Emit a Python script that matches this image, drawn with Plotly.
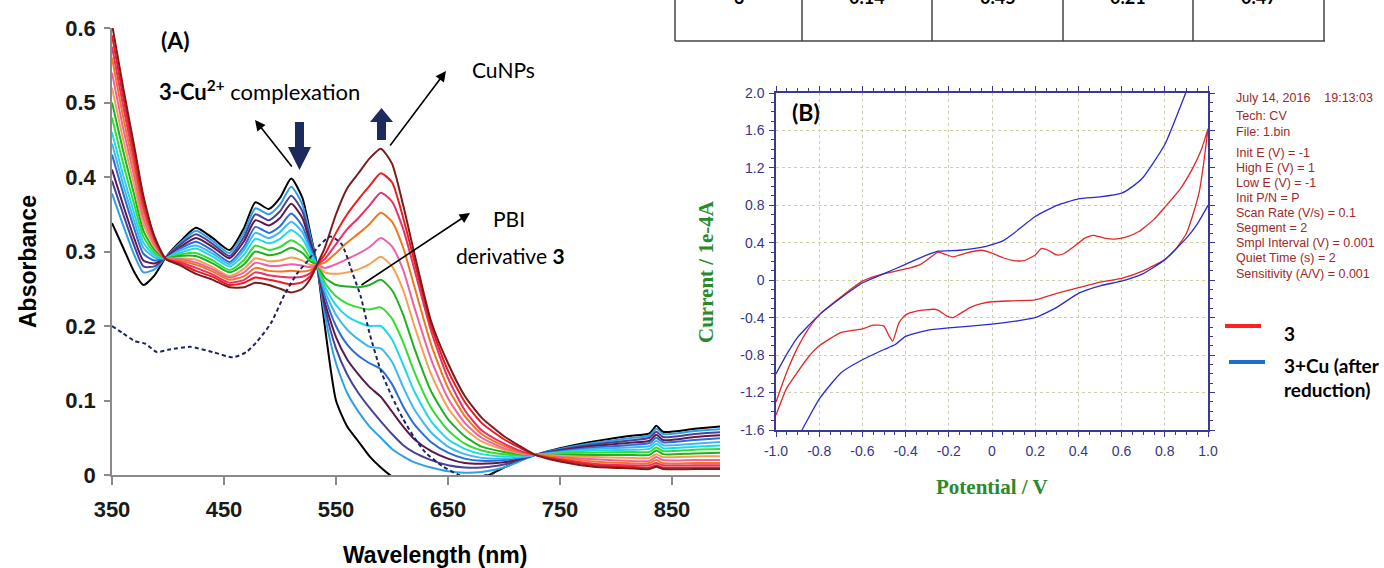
import plotly.graph_objects as go

# ---------------- Panel A data (UV-vis titration) ----------------
wl = [350, 360, 370, 378, 388, 398, 410, 425, 440, 455, 468, 478, 490, 500, 510, 520, 527, 533,
      540, 550, 560, 570, 580, 590, 600, 610, 620, 635, 650, 665, 680, 700, 715, 728,
      750, 780, 810, 830, 836, 842, 870, 900]

c01 = [.338, .305, .272, .255, .268, .292, .312, .332, .318, .302, .332, .366, .357, .372, .398, .372, .325, .282,
       .200, .100, .065, .045, .025, .010, -.002, -.010, -.015, -.020, -.020, -.015, -.005, .010, .020, .027,
       .036, .045, .052, .056, .066, .058, .062, .066]
c02 = [.378, .335, .295, .272, .276, .292, .310, .328, .314, .298, .326, .358, .350, .363, .387, .363, .321, .282,
       .215, .150, .110, .085, .065, .050, .035, .025, .017, .010, .005, .003, .004, .010, .019, .027,
       .035, .043, .049, .053, .062, .055, .059, .062]
c03 = [.395, .350, .307, .280, .280, .292, .308, .323, .310, .294, .320, .350, .342, .354, .375, .354, .316, .282,
       .225, .170, .135, .110, .090, .072, .055, .040, .030, .020, .013, .010, .010, .014, .021, .027,
       .034, .041, .046, .050, .058, .051, .055, .058]
c04 = [.410, .362, .317, .288, .284, .292, .305, .318, .306, .291, .314, .342, .335, .345, .364, .345, .311, .282,
       .232, .185, .155, .135, .118, .105, .085, .065, .048, .032, .022, .016, .015, .017, .022, .027,
       .033, .039, .043, .046, .054, .047, .051, .054]
c05 = [.430, .378, .330, .297, .288, .291, .303, .313, .301, .286, .307, .333, .325, .334, .351, .334, .306, .282,
       .240, .200, .175, .160, .150, .142, .122, .092, .068, .044, .030, .022, .019, .020, .023, .027,
       .032, .037, .040, .043, .050, .044, .047, .050]
c06 = [.445, .390, .340, .305, .292, .291, .301, .308, .297, .283, .302, .325, .318, .326, .340, .326, .301, .282,
       .247, .215, .195, .182, .172, .170, .152, .118, .088, .057, .038, .028, .023, .022, .024, .027,
       .031, .035, .037, .039, .046, .040, .042, .045]
c07 = [.460, .402, .350, .312, .295, .291, .298, .304, .293, .280, .296, .317, .311, .317, .329, .317, .297, .282,
       .253, .228, .213, .205, .200, .200, .182, .148, .112, .072, .048, .035, .028, .025, .026, .027,
       .030, .033, .034, .035, .042, .036, .038, .040]
c08 = [.480, .418, .362, .320, .298, .291, .296, .298, .288, .275, .289, .308, .302, .306, .315, .306, .291, .282,
       .258, .240, .230, .225, .222, .225, .210, .178, .138, .090, .060, .042, .033, .028, .027, .027,
       .029, .030, .031, .031, .037, .032, .034, .035]
c09 = [.500, .435, .375, .328, .302, .291, .294, .294, .284, .272, .283, .300, .295, .298, .305, .298, .287, .282,
       .265, .255, .253, .252, .255, .262, .248, .215, .170, .112, .075, .052, .038, .031, .028, .027,
       .027, .027, .027, .027, .033, .028, .029, .030]
c10 = [.520, .450, .388, .337, .306, .291, .291, .289, .279, .267, .277, .291, .287, .288, .292, .288, .282, .282,
       .272, .270, .272, .276, .283, .293, .280, .248, .200, .135, .090, .062, .045, .034, .029, .027,
       .026, .024, .023, .023, .028, .024, .025, .025]
c11 = [.540, .465, .400, .345, .309, .290, .290, .285, .276, .265, .272, .285, .281, .281, .283, .281, .279, .282,
       .278, .283, .290, .297, .306, .318, .307, .275, .225, .155, .103, .070, .050, .036, .030, .027,
       .024, .021, .019, .019, .024, .020, .020, .020]
c12 = [.560, .480, .410, .353, .312, .290, .288, .282, .273, .262, .267, .278, .274, .273, .274, .273, .275, .282,
       .285, .298, .312, .324, .337, .352, .340, .305, .253, .175, .117, .079, .055, .039, .031, .027,
       .023, .018, .016, .016, .020, .016, .016, .016]
c13 = [.575, .495, .420, .360, .315, .290, .286, .278, .269, .258, .262, .272, .268, .266, .265, .266, .271, .282,
       .290, .310, .330, .345, .362, .379, .367, .330, .276, .193, .130, .087, .060, .042, .032, .027,
       .021, .015, .013, .013, .016, .013, .013, .013]
c14 = [.590, .508, .430, .368, .318, .290, .284, .274, .266, .255, .258, .265, .262, .259, .256, .259, .267, .282,
       .296, .325, .350, .370, .388, .405, .393, .345, .287, .200, .140, .098, .070, .048, .036, .027,
       .020, .013, .011, .010, .013, .010, .010, .010]
c15 = [.605, .520, .440, .375, .320, .290, .282, .270, .262, .252, .252, .258, .255, .250, .245, .250, .263, .282,
       .305, .350, .385, .405, .425, .438, .418, .362, .297, .206, .150, .106, .077, .052, .038, .027,
       .018, .011, .009, .008, .011, .008, .008, .008]

series_A = [c01, c02, c03, c04, c05, c06, c07, c08, c09, c10, c11, c12, c13, c14, c15]
colors_A = ["#000000", "#2ea0e6", "#4a4296", "#5c1a4a", "#2a6dd9", "#3fb8f0", "#22d8e8", "#33dd33",
            "#22b022", "#f5a050", "#f060a8", "#f07818", "#e8306a", "#ee1c1c", "#7a1c1c"]

dash_wl = [350, 360, 370, 380, 390, 400, 420, 440, 458, 470, 480, 492, 504, 515, 525, 535, 545, 555,
           565, 572, 580, 590, 600, 610, 620, 630, 645, 660, 670, 685, 692]
dash_ab = [.200, .190, .180, .176, .165, .168, .172, .165, .158, .165, .180, .204, .242, .270, .288, .308, .320, .310,
           .270, .240, .190, .140, .105, .075, .050, .030, .012, .000, -.003, .000, .003]

xticks_A = [350, 450, 550, 650, 750, 850]
yticks_A = [0, 0.1, 0.2, 0.3, 0.4, 0.5, 0.6]
yticktext_A = ["0", "0.1", "0.2", "0.3", "0.4", "0.5", "0.6"]

# ---------------- Panel B data (cyclic voltammetry) ----------------
red_up_E = [-1.0, -0.95, -0.9, -0.85, -0.8, -0.7, -0.6, -0.5, -0.4, -0.33, -0.27, -0.25, -0.22, -0.18, -0.12,
            -0.05, 0.0, 0.05, 0.1, 0.15, 0.2, 0.23, 0.26, 0.3, 0.33, 0.38, 0.43, 0.47, 0.52, 0.57, 0.62, 0.68,
            0.75, 0.8, 0.87, 0.93, 0.97, 1.0]
red_up_I = [-1.30, -0.98, -0.72, -0.52, -0.37, -0.18, -0.01, 0.07, 0.12, 0.17, 0.27, 0.30, 0.28, 0.25, 0.29,
            0.32, 0.29, 0.24, 0.21, 0.21, 0.27, 0.34, 0.32, 0.27, 0.28, 0.36, 0.45, 0.48, 0.45, 0.44, 0.46, 0.52,
            0.65, 0.78, 0.97, 1.20, 1.40, 1.62]
red_dn_E = [1.0, 0.98, 0.96, 0.93, 0.9, 0.85, 0.8, 0.7, 0.6, 0.5, 0.4, 0.3, 0.2, 0.1, 0.0, -0.05, -0.1, -0.15,
            -0.18, -0.21, -0.25, -0.27, -0.35, -0.4, -0.43, -0.46, -0.48, -0.5, -0.55, -0.6, -0.7, -0.8, -0.85,
            -0.9, -0.95, -1.0]
red_dn_I = [1.62, 1.25, 0.95, 0.70, 0.50, 0.33, 0.22, 0.10, 0.02, -0.02, -0.08, -0.14, -0.21, -0.22, -0.23, -0.25,
            -0.29, -0.36, -0.40, -0.38, -0.32, -0.31, -0.33, -0.37, -0.45, -0.65, -0.58, -0.49, -0.48, -0.52,
            -0.56, -0.70, -0.82, -0.98, -1.15, -1.44]
blue_up_E = [-1.0, -0.95, -0.9, -0.8, -0.7, -0.6, -0.5, -0.4, -0.3, -0.25, -0.15, -0.05, 0.0, 0.05, 0.1, 0.2,
             0.3, 0.4, 0.5, 0.6, 0.65, 0.7, 0.8, 0.9, 0.93]
blue_up_I = [-1.00, -0.79, -0.61, -0.37, -0.19, -0.03, 0.07, 0.17, 0.27, 0.31, 0.32, 0.35, 0.38, 0.42, 0.50, 0.68,
             0.80, 0.87, 0.89, 0.93, 1.00, 1.10, 1.45, 2.02, 2.20]
blue_dn_E = [1.0, 0.95, 0.9, 0.8, 0.7, 0.6, 0.5, 0.4, 0.3, 0.2, 0.1, 0.0, -0.2, -0.3, -0.4, -0.45, -0.5, -0.6,
             -0.7, -0.8, -0.88, -0.92]
blue_dn_I = [0.80, 0.60, 0.45, 0.22, 0.07, -0.01, -0.06, -0.14, -0.29, -0.40, -0.44, -0.47, -0.51, -0.535, -0.60,
             -0.69, -0.74, -0.85, -0.99, -1.27, -1.60, -1.75]

xticks_B = [-1.0, -0.8, -0.6, -0.4, -0.2, 0.0, 0.2, 0.4, 0.6, 0.8, 1.0]
xticktext_B = ["-1.0", "-0.8", "-0.6", "-0.4", "-0.2", "0", "0.2", "0.4", "0.6", "0.8", "1.0"]
yticks_B = [-1.6, -1.2, -0.8, -0.4, 0.0, 0.4, 0.8, 1.2, 1.6, 2.0]
yticktext_B = ["-1.6", "-1.2", "-0.8", "-0.4", "0", "0.4", "0.8", "1.2", "1.6", "2.0"]

info_lines = ["July 14, 2016    19:13:03", "Tech: CV", "File: 1.bin", "Init E (V) = -1", "High E (V) = 1",
              "Low E (V) = -1", "Init P/N = P", "Scan Rate (V/s) = 0.1", "Segment = 2",
              "Smpl Interval (V) = 0.001", "Quiet Time (s) = 2", "Sensitivity (A/V) = 0.001"]
table_cells = ["3", "0.14", "0.45", "0.21", "0.47"]

# ---------------- layout helpers ----------------
W, H = 1384, 568
def px(x):
    return x / W
def py(y):
    return 1 - y / H

fig = go.Figure()

for vals, col in zip(series_A, colors_A):
    fig.add_trace(go.Scatter(x=wl, y=vals, mode="lines", line=dict(color=col, width=2, shape="spline", smoothing=0.6),
                             showlegend=False, hoverinfo="skip", xaxis="x", yaxis="y"))
fig.add_trace(go.Scatter(x=dash_wl, y=dash_ab, mode="lines",
                         line=dict(color="#1c2466", width=2, dash="4px,3px", shape="spline", smoothing=0.6),
                         showlegend=False, hoverinfo="skip", xaxis="x", yaxis="y"))

fig.add_trace(go.Scatter(x=red_up_E + red_dn_E, y=red_up_I + red_dn_I, mode="lines",
                         line=dict(color="#e02828", width=1.3, shape="spline", smoothing=0.5),
                         showlegend=False, hoverinfo="skip", xaxis="x2", yaxis="y2"))
fig.add_trace(go.Scatter(x=blue_up_E, y=blue_up_I, mode="lines",
                         line=dict(color="#2a2ad0", width=1.3, shape="spline", smoothing=0.5),
                         showlegend=False, hoverinfo="skip", xaxis="x2", yaxis="y2"))
fig.add_trace(go.Scatter(x=blue_dn_E, y=blue_dn_I, mode="lines",
                         line=dict(color="#2a2ad0", width=1.3, shape="spline", smoothing=0.5),
                         showlegend=False, hoverinfo="skip", xaxis="x2", yaxis="y2"))

tickA = dict(family="Liberation Sans, Arial, sans-serif", size=22, color="#1a1a1a", weight="bold")
navy = "#3a3a96"
tickB = dict(family="Liberation Sans, Arial, sans-serif", size=14, color="#35358a")
green = "#2a8a2a"

fig.update_layout(
    width=W, height=H, margin=dict(l=0, r=0, t=0, b=0, autoexpand=False),
    paper_bgcolor="white", plot_bgcolor="rgba(0,0,0,0)",
    xaxis=dict(domain=[px(112), px(720)], range=[350, 350 + (720 - 112) / 1.12], anchor="y", automargin=False,
               showline=True, linecolor="#8a8a8a", linewidth=1.5, ticks="outside", ticklen=8,
               tickcolor="#8a8a8a", tickwidth=1.5, tickvals=xticks_A, tickfont=tickA,
               showgrid=False, zeroline=False, ticklabelstandoff=6),
    yaxis=dict(domain=[py(475), py(28)], range=[0, 0.6], anchor="x", automargin=False,
               showline=True, linecolor="#8a8a8a", linewidth=1.5, ticks="outside", ticklen=6,
               tickcolor="#8a8a8a", tickwidth=1.5, tickvals=yticks_A, ticktext=yticktext_A, tickfont=tickA,
               showgrid=False, zeroline=False, ticklabelstandoff=4),
    xaxis2=dict(domain=[px(776), px(1208)], range=[-1.0, 1.0], anchor="y2", automargin=False,
                showline=True, mirror="ticks", linecolor=navy, linewidth=1.5, ticks="outside", ticklen=5,
                tickcolor=navy, tickvals=xticks_B, ticktext=xticktext_B, tickfont=tickB,
                showgrid=True, gridcolor="#cfcfa8", griddash="dot", gridwidth=1, zeroline=False,
                minor=dict(dtick=0.05, tick0=0, ticks="outside", ticklen=3, tickcolor=navy, showgrid=False),
                ticklabelstandoff=2),
    yaxis2=dict(domain=[py(430), py(93)], range=[-1.6, 2.0], anchor="x2", automargin=False,
                showline=True, mirror="ticks", linecolor=navy, linewidth=1.5, ticks="outside", ticklen=5,
                tickcolor=navy, tickvals=yticks_B, ticktext=yticktext_B, tickfont=tickB,
                showgrid=True, gridcolor="#cfcfa8", griddash="dot", gridwidth=1, zeroline=False,
                minor=dict(dtick=0.1, tick0=0, ticks="outside", ticklen=3, tickcolor=navy, showgrid=False),
                ticklabelstandoff=2),
)

ann = []
def text(x, y, s, size, color="#000", family="Lato, sans-serif", weight="normal", xanchor="center",
         yanchor="middle", angle=0):
    ann.append(dict(x=px(x), y=py(y), xref="paper", yref="paper", text=s, showarrow=False,
                    xanchor=xanchor, yanchor=yanchor, textangle=angle, borderpad=0,
                    font=dict(size=size, color=color, family=family, weight=weight)))

# Panel A texts
text(28, 262, "Absorbance", 23, family="Liberation Sans, Arial, sans-serif", weight="bold", angle=-90)
text(435, 555, "Wavelength (nm)", 23, family="Liberation Sans, Arial, sans-serif", weight="bold")
text(175, 40, "(A)", 23, weight="bold")
text(259, 90, "<b>3-Cu<sup>2+</sup></b> complexation", 22)
text(503, 70, "CuNPs", 21)
text(509, 218, "PBI", 21)
text(510, 255, "derivative <b>3</b>", 21)

def arrow(hx, hy, tx, ty):
    ann.append(dict(x=px(hx), y=py(hy), xref="paper", yref="paper", ax=tx - hx, ay=ty - hy,
                    axref="pixel", ayref="pixel", text="", showarrow=True, arrowhead=2, arrowsize=1.3,
                    arrowwidth=1.6, arrowcolor="#000", standoff=0))
arrow(255, 120, 293, 168)
arrow(446, 71, 389, 147)
arrow(470, 213, 360, 286)

# Panel B texts
text(806, 112, "(B)", 23, weight="bold")
text(992, 487, "Potential / V", 21, color=green, family="Liberation Serif, Times New Roman, serif", weight="bold")
text(706, 272, "Current / 1e-4A", 21, color=green, family="Liberation Serif, Times New Roman, serif",
     weight="bold", angle=-90)
info_y = [98, 116, 132, 153, 168, 183, 198, 213, 228, 243, 258, 274]
for line, yy in zip(info_lines, info_y):
    text(1235, yy, line, 12.5, color="#a02828", family="Liberation Sans, Arial, sans-serif", xanchor="left")
text(1283, 333, "3", 19, weight="bold", xanchor="left")
text(1283, 365, "3+Cu (after", 19, weight="bold", xanchor="left")
text(1283, 389, "reduction)", 19, weight="bold", xanchor="left")

# table fragment (text cut by the top edge, as in the source image)
col_x = [675, 802, 932, 1063, 1193, 1324]
for i, cell in enumerate(table_cells):
    cx = (col_x[i] + col_x[i + 1]) / 2
    text(cx, 9, cell, 18, weight="bold", yanchor="bottom")

fig.update_layout(annotations=ann)

shapes = []
def seg(x0, y0, x1, y1, color, width):
    shapes.append(dict(type="line", xref="paper", yref="paper", x0=px(x0), y0=py(y0), x1=px(x1), y1=py(y1),
                       line=dict(color=color, width=width)))
def poly(pts, color):
    d = "M " + " L ".join(f"{px(a):.5f},{py(b):.5f}" for a, b in pts) + " Z"
    shapes.append(dict(type="path", xref="paper", yref="paper", path=d, fillcolor=color,
                       line=dict(color=color, width=0)))

navy_arrow = "#1c2a5e"
poly([(295, 122), (304, 122), (304, 147), (311, 147), (299.5, 170), (288, 147), (295, 147)], navy_arrow)
poly([(377, 140), (386, 140), (386, 122), (393, 122), (381.5, 108), (370, 122), (377, 122)], navy_arrow)

seg(1225, 326, 1261, 326, "#ff2020", 4)
seg(1229, 362, 1265, 362, "#1f6fc8", 4)

seg(675, 41, 1325, 41, "#444", 1.5)
for cx in col_x:
    seg(cx, 0, cx, 41, "#444", 1.5)

fig.update_layout(shapes=shapes)

fig.write_html("out.html")
